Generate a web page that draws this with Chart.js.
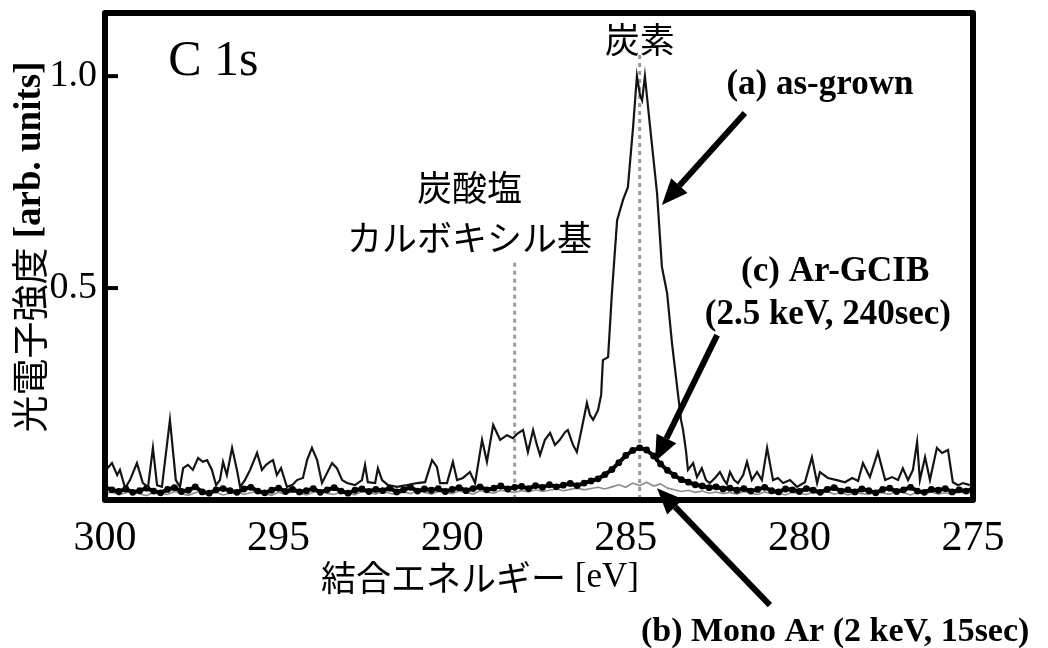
<!DOCTYPE html>
<html>
<head>
<meta charset="utf-8">
<script src="https://cdn.jsdelivr.net/npm/chart.js@4/dist/chart.umd.min.js"></script>
<style>
  html, body { margin: 0; padding: 0; background: #fff; }
  #wrap { width: 1048px; height: 648px; }
</style>
</head>
<body>
<div id="wrap"><canvas id="c" width="1048" height="648"></canvas></div>
<script>
// C 1s XPS spectra, binding energy in eV, normalised intensity

// (a) as-grown: measured points (energy / intensity)
const asGrownEnergy = [
  299.97, 299.80, 299.65, 299.57, 299.42, 299.28, 299.08, 298.91, 298.76, 298.62,
  298.50, 298.36, 298.13, 297.96, 297.84, 297.75, 297.61, 297.47, 297.32, 297.18,
  297.06, 296.92, 296.80, 296.69, 296.60, 296.49, 296.34, 296.20, 296.11, 295.97,
  295.82, 295.62, 295.48, 295.36, 295.25, 295.16, 295.05, 294.93, 294.76, 294.61,
  294.47, 294.30, 294.18, 294.04, 293.89, 293.75, 293.46, 293.32, 293.17, 293.03,
  292.80, 292.60, 292.51, 292.43, 292.22, 292.14, 292.02, 291.85, 291.59, 291.30,
  291.01, 290.78, 290.58, 290.44, 290.35, 290.15, 289.98, 289.86, 289.69, 289.49,
  289.34, 289.14, 289.00, 288.82, 288.62, 288.42, 288.25, 288.10, 287.96, 287.82,
  287.67, 287.56, 287.47, 287.33, 287.18, 287.04, 286.90, 286.75, 286.67, 286.52,
  286.41, 286.26, 286.12, 286.03, 285.94, 285.80, 285.71, 285.66, 285.51, 285.40,
  285.25, 285.08, 284.94, 284.79, 284.68, 284.59, 284.53, 284.45, 284.30, 284.10,
  283.96, 283.81, 283.67, 283.50, 283.41, 283.35, 283.27, 283.21, 283.06, 282.95,
  282.81, 282.69, 282.58, 282.43, 282.29, 282.17, 282.09, 282.00, 281.88, 281.77,
  281.62, 281.51, 281.37, 281.22, 281.08, 280.93, 280.76, 280.62, 280.47, 280.27,
  280.07, 279.84, 279.64, 279.49, 279.41, 279.18, 278.92, 278.69, 278.48, 278.31,
  278.17, 277.97, 277.74, 277.53, 277.33, 277.16, 277.02, 276.87, 276.73, 276.61,
  276.53, 276.38, 276.24, 276.04, 275.89, 275.72, 275.58, 275.43, 275.29, 275.09
];
const asGrownIntensity = [
  0.071, 0.087, 0.059, 0.071, 0.028, 0.047, 0.087, 0.040, 0.031, 0.123,
  0.035, 0.031, 0.189, 0.047, 0.031, 0.075, 0.083, 0.071, 0.099, 0.090,
  0.094, 0.071, 0.035, 0.047, 0.090, 0.059, 0.123, 0.071, 0.031, 0.047,
  0.071, 0.111, 0.071, 0.083, 0.090, 0.094, 0.059, 0.075, 0.031, 0.035,
  0.047, 0.052, 0.094, 0.123, 0.094, 0.040, 0.087, 0.075, 0.047, 0.040,
  0.035, 0.047, 0.083, 0.042, 0.040, 0.075, 0.047, 0.035, 0.031, 0.035,
  0.040, 0.042, 0.094, 0.078, 0.040, 0.040, 0.090, 0.047, 0.052, 0.066,
  0.040, 0.142, 0.090, 0.177, 0.142, 0.153, 0.146, 0.158, 0.165, 0.113,
  0.165, 0.130, 0.106, 0.142, 0.158, 0.130, 0.142, 0.160, 0.165, 0.130,
  0.113, 0.172, 0.229, 0.200, 0.189, 0.212, 0.248, 0.330, 0.337, 0.488,
  0.660, 0.708, 0.738, 0.880, 1.000, 0.955, 0.943, 1.000, 0.880, 0.724,
  0.550, 0.488, 0.370, 0.252, 0.189, 0.165, 0.118, 0.071, 0.087, 0.054,
  0.075, 0.047, 0.040, 0.052, 0.066, 0.047, 0.038, 0.066, 0.047, 0.040,
  0.059, 0.090, 0.047, 0.066, 0.047, 0.123, 0.047, 0.052, 0.040, 0.047,
  0.031, 0.042, 0.101, 0.040, 0.066, 0.052, 0.047, 0.042, 0.052, 0.045,
  0.087, 0.054, 0.113, 0.047, 0.054, 0.047, 0.075, 0.047, 0.071, 0.137,
  0.047, 0.101, 0.047, 0.123, 0.111, 0.118, 0.042, 0.035, 0.040, 0.035
];

// (b) and (c) share a 0.2 eV grid starting at 300 eV
const gridStartEnergy = 300.0;
const gridStepEnergy = 0.2;

// (b) Mono Ar (2 keV, 15sec)
const monoArIntensity = [
  0.015, 0.019, 0.012, 0.017, 0.021, 0.014, 0.010, 0.018, 0.016, 0.013,
  0.020, 0.015, 0.011, 0.017, 0.022, 0.014, 0.018, 0.012, 0.016, 0.019,
  0.013, 0.017, 0.021, 0.015, 0.011, 0.018, 0.014, 0.020, 0.016, 0.012,
  0.018, 0.022, 0.015, 0.013, 0.019, 0.016, 0.012, 0.020, 0.017, 0.014,
  0.021, 0.016, 0.013, 0.019, 0.015, 0.022, 0.018, 0.014, 0.020, 0.017,
  0.015, 0.021, 0.018, 0.014, 0.022, 0.019, 0.016, 0.023, 0.020, 0.018,
  0.022, 0.019, 0.024, 0.020, 0.023, 0.026, 0.022, 0.025, 0.028, 0.024,
  0.027, 0.030, 0.026, 0.031, 0.036, 0.030, 0.040, 0.034, 0.042, 0.033,
  0.038, 0.028, 0.024, 0.020, 0.023, 0.018, 0.021, 0.016, 0.019, 0.015,
  0.018, 0.014, 0.020, 0.016, 0.013, 0.019, 0.015, 0.017, 0.012, 0.018,
  0.016, 0.013, 0.019, 0.015, 0.020, 0.014, 0.017, 0.012, 0.018, 0.015,
  0.013, 0.019, 0.016, 0.014, 0.020, 0.017, 0.012, 0.018, 0.015, 0.019,
  0.014, 0.017, 0.013, 0.019, 0.016, 0.018
];

// (c) Ar-GCIB (2.5 keV, 240sec)
const gcibIntensity = [
  0.030, 0.024, 0.020, 0.026, 0.018, 0.022, 0.028, 0.021, 0.017, 0.025,
  0.029, 0.020, 0.023, 0.031, 0.019, 0.016, 0.024, 0.027, 0.022, 0.018,
  0.026, 0.030, 0.021, 0.017, 0.023, 0.028, 0.020, 0.025, 0.019, 0.022,
  0.027, 0.018, 0.024, 0.029, 0.021, 0.016, 0.023, 0.026, 0.020, 0.025,
  0.022, 0.028, 0.019, 0.024, 0.030, 0.021, 0.026, 0.023, 0.027, 0.020,
  0.025, 0.029, 0.022, 0.027, 0.031, 0.024, 0.028, 0.033, 0.026, 0.030,
  0.032, 0.027, 0.034, 0.030, 0.036, 0.031, 0.035, 0.039, 0.034, 0.040,
  0.045, 0.050, 0.060, 0.072, 0.088, 0.105, 0.117, 0.123, 0.118, 0.104,
  0.085, 0.070, 0.058, 0.048, 0.042, 0.036, 0.033, 0.029, 0.031, 0.026,
  0.028, 0.023, 0.027, 0.021, 0.025, 0.030, 0.022, 0.019, 0.026, 0.024,
  0.020, 0.027, 0.023, 0.018, 0.025, 0.029, 0.021, 0.024, 0.019, 0.026,
  0.022, 0.017, 0.025, 0.028, 0.020, 0.024, 0.030, 0.021, 0.018, 0.025,
  0.023, 0.027, 0.019, 0.024, 0.021, 0.026
];

const xTickValues = [300, 295, 290, 285, 280, 275];
const yTickValues = [0.5, 1.0];
const carbonEnergy = 284.6;
const carbonateEnergy = 288.2;

const SERIF = '"Liberation Serif", "Times New Roman", serif';
const JP = '"Noto Sans CJK JP", sans-serif';

const pairs = (xs, ys) => ys.map((y, i) => ({ x: xs[i], y }));
const gridEnergy = monoArIntensity.map((_, i) => +(gridStartEnergy - gridStepEnergy * i).toFixed(1));

// text made of several font runs, centred on (cx, cy)
function drawRuns(ctx, runs, cx, cy) {
  let total = 0;
  runs.forEach(r => { ctx.font = r.font; r.w = ctx.measureText(r.text).width; total += r.w; });
  let x = cx - total / 2;
  ctx.textAlign = 'left';
  ctx.textBaseline = 'middle';
  runs.forEach(r => { ctx.font = r.font; ctx.fillText(r.text, x, cy); x += r.w; });
}

function arrow(ctx, x1, y1, x2, y2) {
  const a = Math.atan2(y2 - y1, x2 - x1);
  const head = 26, half = 11;
  const bx = x2 - head * Math.cos(a), by = y2 - head * Math.sin(a);
  ctx.beginPath();
  ctx.moveTo(x1, y1);
  ctx.lineTo(bx, by);
  ctx.lineWidth = 6;
  ctx.strokeStyle = '#000';
  ctx.stroke();
  ctx.beginPath();
  ctx.moveTo(x2, y2);
  ctx.lineTo(bx + half * Math.sin(a), by - half * Math.cos(a));
  ctx.lineTo(bx - half * Math.sin(a), by + half * Math.cos(a));
  ctx.closePath();
  ctx.fillStyle = '#000';
  ctx.fill();
}

const decorations = {
  id: 'decorations',
  beforeDatasetsDraw(chart) {
    const { ctx, scales: { x, y } } = chart;
    ctx.save();
    ctx.strokeStyle = '#9a9a9a';
    ctx.lineWidth = 3;
    ctx.setLineDash([4, 4]);
    ctx.beginPath();
    ctx.moveTo(x.getPixelForValue(carbonEnergy), y.getPixelForValue(1.05));
    ctx.lineTo(x.getPixelForValue(carbonEnergy), y.getPixelForValue(0));
    ctx.moveTo(x.getPixelForValue(carbonateEnergy), y.getPixelForValue(0.56));
    ctx.lineTo(x.getPixelForValue(carbonateEnergy), y.getPixelForValue(0));
    ctx.stroke();
    ctx.restore();
  },
  afterDraw(chart) {
    const { ctx, chartArea: ca, scales: { x, y } } = chart;
    const X = v => x.getPixelForValue(v), Y = v => y.getPixelForValue(v);
    ctx.save();

    // frame
    ctx.strokeStyle = '#000';
    ctx.lineWidth = 6;
    ctx.lineJoin = 'round';
    ctx.strokeRect(ca.left, ca.top, ca.right - ca.left, ca.bottom - ca.top);

    // inward y ticks
    ctx.lineWidth = 4;
    yTickValues.forEach(v => {
      ctx.beginPath();
      ctx.moveTo(ca.left, Y(v));
      ctx.lineTo(ca.left + 13, Y(v));
      ctx.stroke();
    });

    ctx.fillStyle = '#000';
    // panel label
    ctx.font = '50px ' + SERIF;
    ctx.textAlign = 'left';
    ctx.textBaseline = 'middle';
    ctx.fillText('C 1s', X(298.18), Y(1.033));

    // peak labels
    ctx.textAlign = 'center';
    ctx.font = '35px ' + JP;
    ctx.fillText('炭素', X(carbonEnergy), Y(1.085));
    ctx.fillText('炭酸塩', X(289.5), Y(0.736));
    ctx.fillText('カルボキシル基', X(289.5), Y(0.620));

    // sample labels
    ctx.font = 'bold 35px ' + SERIF;
    ctx.fillText('(a) as-grown', X(279.41), Y(0.979));
    ctx.fillText('(c) Ar-GCIB', X(278.97), Y(0.538));
    ctx.fillText('(2.5 keV, 240sec)', X(279.18), Y(0.436));
    ctx.font = 'bold 34px ' + SERIF;
    ctx.fillText('(b) Mono Ar (2 keV, 15sec)', X(278.97), Y(-0.311));

    arrow(ctx, X(281.57), Y(0.913), X(283.96), Y(0.696));
    arrow(ctx, X(282.37), Y(0.389), X(284.16), Y(0.090));
    arrow(ctx, X(280.85), Y(-0.248), X(284.10), Y(0.028));

    // axis titles
    drawRuns(ctx, [
      { text: '結合エネルギー', font: '35px ' + JP },
      { text: ' [eV]', font: '35px ' + SERIF }
    ], 480, 578);

    ctx.translate(30, 247);
    ctx.rotate(-Math.PI / 2);
    drawRuns(ctx, [
      { text: '光電子強度', font: '37px ' + JP },
      { text: ' [arb. units]', font: 'bold 37px ' + SERIF }
    ], 0, 0);
    ctx.restore();
  }
};

new Chart(document.getElementById('c'), {
  type: 'line',
  data: {
    datasets: [
      {
        label: '(a) as-grown',
        data: pairs(asGrownEnergy, asGrownIntensity),
        borderColor: '#141414',
        borderWidth: 2.2,
        pointRadius: 0,
        tension: 0
      },
      {
        label: '(c) Ar-GCIB',
        data: pairs(gridEnergy, gcibIntensity),
        borderColor: '#000',
        borderWidth: 4,
        pointRadius: 3.4,
        pointBackgroundColor: '#000',
        pointBorderWidth: 0,
        tension: 0
      },
      {
        label: '(b) Mono Ar',
        data: pairs(gridEnergy, monoArIntensity),
        borderColor: '#8c8c8c',
        borderWidth: 1.6,
        pointRadius: 0,
        tension: 0
      }
    ]
  },
  options: {
    responsive: false,
    animation: false,
    events: [],
    layout: { padding: { top: 13, right: 75, left: 0, bottom: 0 } },
    plugins: { legend: { display: false }, tooltip: { enabled: false } },
    scales: {
      x: {
        type: 'linear',
        min: 275,
        max: 300,
        reverse: true,
        afterFit(s) { s.height = 148; s.paddingLeft = 0; s.paddingRight = 0; },
        afterBuildTicks(s) { s.ticks = xTickValues.map(v => ({ value: v })); },
        grid: { display: false, drawTicks: false },
        border: { display: false },
        ticks: {
          font: { family: SERIF, size: 42 },
          color: '#000',
          padding: 14,
          maxRotation: 0,
          autoSkip: false
        }
      },
      y: {
        min: 0,
        max: 1.149,
        afterFit(s) { s.width = 105; s.paddingTop = 0; s.paddingBottom = 0; },
        afterBuildTicks(s) { s.ticks = yTickValues.map(v => ({ value: v })); },
        grid: { display: false, drawTicks: false },
        border: { display: false },
        ticks: {
          font: { family: SERIF, size: 38 },
          color: '#000',
          padding: 8,
          callback: v => v.toFixed(1)
        }
      }
    }
  },
  plugins: [decorations]
});
</script>
</body>
</html>
